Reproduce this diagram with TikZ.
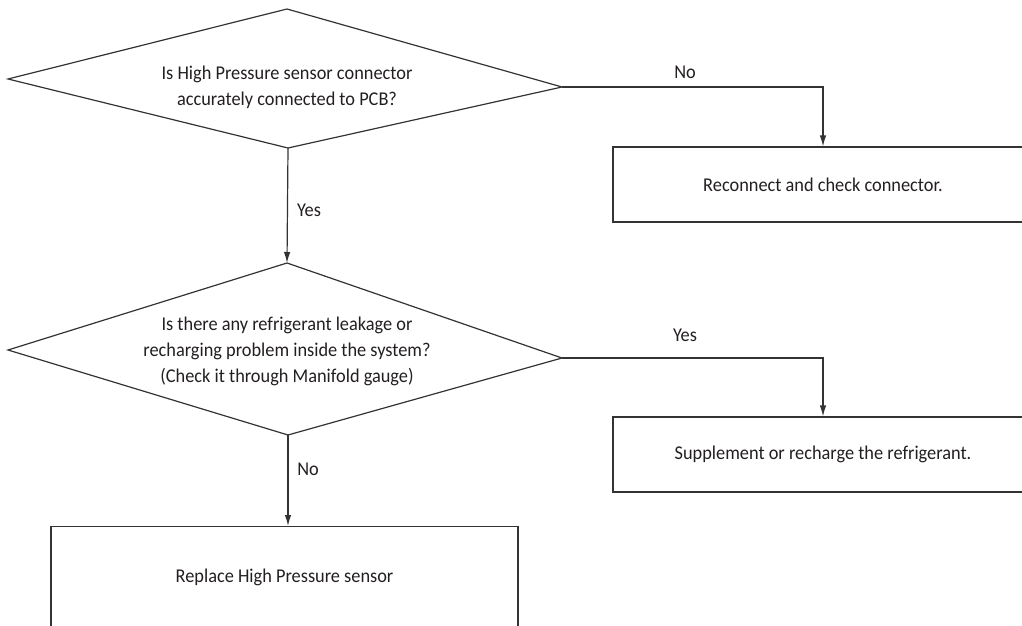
\documentclass[tikz,border=0pt]{standalone}
\usepackage{fontspec}
\setmainfont{Carlito}[FakeStretch=0.94]
\usetikzlibrary{arrows.meta}
\definecolor{ink}{HTML}{231F20}
\definecolor{linec}{HTML}{333333}
\begin{document}
\begin{tikzpicture}[x=1pt,y=-1pt,
  every node/.style={text=ink,font=\fontsize{19.5pt}{26pt}\selectfont},
  shape line/.style={draw=linec,line width=1.2pt,line join=miter},
  conn/.style={draw=linec,line width=1.2pt,-{Latex[length=11pt,width=6.5pt]}},
  txt/.style={align=center,inner sep=0pt},
  box/.style={shape line,rectangle,inner sep=0pt,align=center},
  lbl/.style={inner sep=0pt}]
\useasboundingbox (0,0) rectangle (1022,626);
% decision 1
\coordinate (d1l) at (8,79);
\coordinate (d1t) at (287,9);
\coordinate (d1r) at (562,87);
\coordinate (d1b) at (288,148);
\draw[shape line] (d1l) -- (d1t) -- (d1r) -- (d1b) -- cycle;
\node[txt] (q1) at (287,87) {Is High Pressure sensor connector\\accurately connected to PCB?};
% decision 2
\coordinate (d2l) at (8,350);
\coordinate (d2t) at (287,263);
\coordinate (d2r) at (562,358);
\coordinate (d2b) at (288,435);
\draw[shape line] (d2l) -- (d2t) -- (d2r) -- (d2b) -- cycle;
\node[txt] (q2) at (287,351) {Is there any refrigerant leakage or\\recharging problem inside the system?\\(Check it through Manifold gauge)};
% boxes
\node[box,minimum width=420pt,minimum height=75pt] (b1) at (823,184.5) {Reconnect and check connector.};
\node[box,minimum width=420pt,minimum height=75pt] (b2) at (823,454.5) {Supplement or recharge the refrigerant.};
\node[box,minimum width=467pt,minimum height=120pt,anchor=north] (b3) at (284.5,526) {};
\node[txt] (t3) at (284.5,577) {Replace High Pressure sensor};
% connectors
\draw[conn] (d1r) -- (b1.north |- d1r) -- (b1.north);
\draw[conn] (d1b) -- (d2t);
\draw[conn] (d2r) -- (b2.north |- d2r) -- (b2.north);
\draw[conn] (d2b) -- (d2b |- b3.north);
% labels
\node[lbl] (l1) at (685,72) {No};
\node[lbl] (l2) at (309,210) {Yes};
\node[lbl] (l3) at (685,335) {Yes};
\node[lbl] (l4) at (308,469) {No};
\end{tikzpicture}
\end{document}
